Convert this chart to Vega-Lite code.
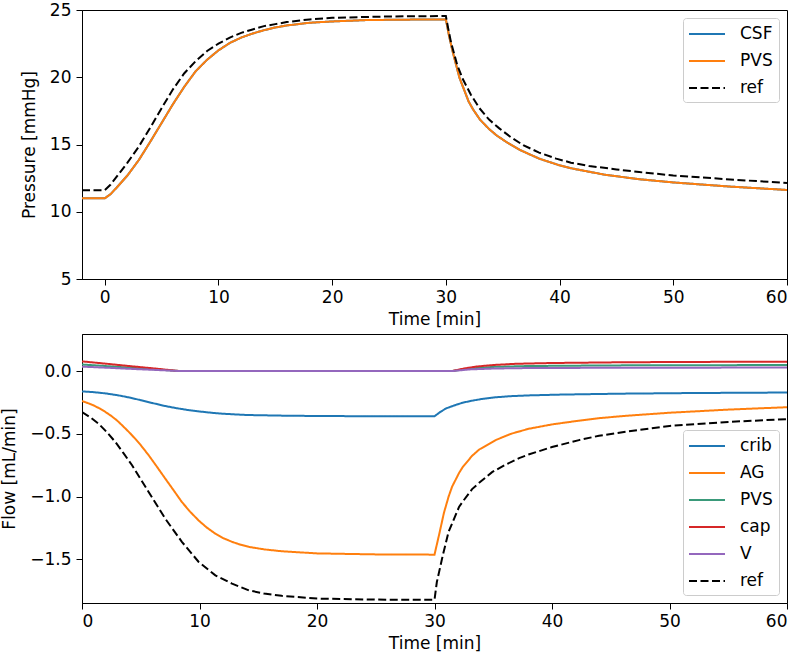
{
  "$schema": "https://vega.github.io/schema/vega-lite/v6.json",
  "padding": {"left": 0, "top": 0, "right": 0, "bottom": 0},
  "spacing": 5,
  "config": {
    "view": {"stroke": "black", "strokeWidth": 1},
    "font": "DejaVu Sans",
    "axis": {
      "grid": false,
      "domainColor": "black",
      "tickColor": "black",
      "tickSize": 6,
      "labelColor": "black",
      "titleColor": "black",
      "labelFont": "DejaVu Sans",
      "titleFont": "DejaVu Sans",
      "labelFontSize": 17,
      "titleFontSize": 17,
      "titleFontWeight": "normal"
    },
    "legend": {
      "labelFont": "DejaVu Sans",
      "labelFontSize": 17,
      "labelColor": "black",
      "symbolType": "M-2,0H2",
      "symbolSize": 324,
      "symbolStrokeWidth": 2,
      "symbolFillColor": "transparent",
      "symbolOffset": 8,
      "labelOffset": 23,
      "padding": 6,
      "rowPadding": 9,
      "strokeColor": "#cccccc",
      "fillColor": "rgba(255,255,255,0.85)",
      "cornerRadius": 3
    }
  },
  "datasets": {
    "pressure": [
      {"t": -2, "s": "CSF", "v": 11.0}, {"t": 0, "s": "CSF", "v": 11.0}, {"t": 0.5, "s": "CSF", "v": 11.3}, {"t": 1, "s": "CSF", "v": 11.75}, {"t": 2, "s": "CSF", "v": 12.7}, {"t": 3, "s": "CSF", "v": 13.85}, {"t": 4, "s": "CSF", "v": 15.2}, {"t": 5, "s": "CSF", "v": 16.6}, {"t": 6, "s": "CSF", "v": 18.0}, {"t": 7, "s": "CSF", "v": 19.3}, {"t": 8, "s": "CSF", "v": 20.45}, {"t": 9, "s": "CSF", "v": 21.3}, {"t": 10, "s": "CSF", "v": 22.0}, {"t": 11, "s": "CSF", "v": 22.55}, {"t": 12, "s": "CSF", "v": 22.95}, {"t": 13, "s": "CSF", "v": 23.25}, {"t": 14, "s": "CSF", "v": 23.5}, {"t": 15, "s": "CSF", "v": 23.7}, {"t": 16, "s": "CSF", "v": 23.85}, {"t": 18, "s": "CSF", "v": 24.05}, {"t": 20, "s": "CSF", "v": 24.15}, {"t": 23, "s": "CSF", "v": 24.25}, {"t": 26, "s": "CSF", "v": 24.28}, {"t": 30, "s": "CSF", "v": 24.3}, {"t": 30.3, "s": "CSF", "v": 23.0}, {"t": 30.6, "s": "CSF", "v": 21.9}, {"t": 31.2, "s": "CSF", "v": 19.95}, {"t": 32, "s": "CSF", "v": 18.2}, {"t": 32.4, "s": "CSF", "v": 17.6}, {"t": 33, "s": "CSF", "v": 16.85}, {"t": 33.8, "s": "CSF", "v": 16.15}, {"t": 34.5, "s": "CSF", "v": 15.65}, {"t": 35.3, "s": "CSF", "v": 15.2}, {"t": 36.5, "s": "CSF", "v": 14.6}, {"t": 38.2, "s": "CSF", "v": 13.95}, {"t": 40, "s": "CSF", "v": 13.45}, {"t": 41.2, "s": "CSF", "v": 13.2}, {"t": 44, "s": "CSF", "v": 12.75}, {"t": 47, "s": "CSF", "v": 12.42}, {"t": 50, "s": "CSF", "v": 12.18}, {"t": 55, "s": "CSF", "v": 11.87}, {"t": 60, "s": "CSF", "v": 11.62},
      {"t": -2, "s": "PVS", "v": 11.0}, {"t": 0, "s": "PVS", "v": 11.0}, {"t": 0.5, "s": "PVS", "v": 11.3}, {"t": 1, "s": "PVS", "v": 11.75}, {"t": 2, "s": "PVS", "v": 12.7}, {"t": 3, "s": "PVS", "v": 13.85}, {"t": 4, "s": "PVS", "v": 15.2}, {"t": 5, "s": "PVS", "v": 16.6}, {"t": 6, "s": "PVS", "v": 18.0}, {"t": 7, "s": "PVS", "v": 19.3}, {"t": 8, "s": "PVS", "v": 20.45}, {"t": 9, "s": "PVS", "v": 21.3}, {"t": 10, "s": "PVS", "v": 22.0}, {"t": 11, "s": "PVS", "v": 22.55}, {"t": 12, "s": "PVS", "v": 22.95}, {"t": 13, "s": "PVS", "v": 23.25}, {"t": 14, "s": "PVS", "v": 23.5}, {"t": 15, "s": "PVS", "v": 23.7}, {"t": 16, "s": "PVS", "v": 23.85}, {"t": 18, "s": "PVS", "v": 24.05}, {"t": 20, "s": "PVS", "v": 24.15}, {"t": 23, "s": "PVS", "v": 24.25}, {"t": 26, "s": "PVS", "v": 24.28}, {"t": 30, "s": "PVS", "v": 24.3}, {"t": 30.3, "s": "PVS", "v": 23.0}, {"t": 30.6, "s": "PVS", "v": 21.9}, {"t": 31.2, "s": "PVS", "v": 19.95}, {"t": 32, "s": "PVS", "v": 18.2}, {"t": 32.4, "s": "PVS", "v": 17.6}, {"t": 33, "s": "PVS", "v": 16.85}, {"t": 33.8, "s": "PVS", "v": 16.15}, {"t": 34.5, "s": "PVS", "v": 15.65}, {"t": 35.3, "s": "PVS", "v": 15.2}, {"t": 36.5, "s": "PVS", "v": 14.6}, {"t": 38.2, "s": "PVS", "v": 13.95}, {"t": 40, "s": "PVS", "v": 13.45}, {"t": 41.2, "s": "PVS", "v": 13.2}, {"t": 44, "s": "PVS", "v": 12.75}, {"t": 47, "s": "PVS", "v": 12.42}, {"t": 50, "s": "PVS", "v": 12.18}, {"t": 55, "s": "PVS", "v": 11.87}, {"t": 60, "s": "PVS", "v": 11.62},
      {"t": -2, "s": "ref", "v": 11.6}, {"t": 0, "s": "ref", "v": 11.6}, {"t": 0.5, "s": "ref", "v": 12.0}, {"t": 1, "s": "ref", "v": 12.55}, {"t": 2, "s": "ref", "v": 13.65}, {"t": 3, "s": "ref", "v": 14.85}, {"t": 4, "s": "ref", "v": 16.25}, {"t": 5, "s": "ref", "v": 17.7}, {"t": 6, "s": "ref", "v": 19.1}, {"t": 7, "s": "ref", "v": 20.3}, {"t": 8, "s": "ref", "v": 21.2}, {"t": 9, "s": "ref", "v": 21.95}, {"t": 10, "s": "ref", "v": 22.5}, {"t": 11, "s": "ref", "v": 22.95}, {"t": 12, "s": "ref", "v": 23.3}, {"t": 13, "s": "ref", "v": 23.55}, {"t": 14, "s": "ref", "v": 23.8}, {"t": 15, "s": "ref", "v": 23.95}, {"t": 16, "s": "ref", "v": 24.1}, {"t": 18, "s": "ref", "v": 24.3}, {"t": 20, "s": "ref", "v": 24.42}, {"t": 25, "s": "ref", "v": 24.52}, {"t": 30, "s": "ref", "v": 24.55}, {"t": 30.2, "s": "ref", "v": 23.65}, {"t": 30.45, "s": "ref", "v": 22.6}, {"t": 31, "s": "ref", "v": 20.9}, {"t": 31.5, "s": "ref", "v": 19.85}, {"t": 32.2, "s": "ref", "v": 18.7}, {"t": 32.95, "s": "ref", "v": 17.7}, {"t": 33.8, "s": "ref", "v": 16.85}, {"t": 34.7, "s": "ref", "v": 16.2}, {"t": 35.7, "s": "ref", "v": 15.55}, {"t": 36.8, "s": "ref", "v": 14.95}, {"t": 38.2, "s": "ref", "v": 14.4}, {"t": 39.7, "s": "ref", "v": 13.95}, {"t": 41, "s": "ref", "v": 13.65}, {"t": 42.6, "s": "ref", "v": 13.4}, {"t": 45, "s": "ref", "v": 13.15}, {"t": 47, "s": "ref", "v": 12.95}, {"t": 50, "s": "ref", "v": 12.7}, {"t": 55, "s": "ref", "v": 12.4}, {"t": 60, "s": "ref", "v": 12.14}
    ],
    "flow": [
      {"t": 0, "s": "crib", "v": -0.162}, {"t": 1, "s": "crib", "v": -0.168}, {"t": 2, "s": "crib", "v": -0.178}, {"t": 3, "s": "crib", "v": -0.192}, {"t": 4, "s": "crib", "v": -0.21}, {"t": 5, "s": "crib", "v": -0.232}, {"t": 6, "s": "crib", "v": -0.255}, {"t": 7, "s": "crib", "v": -0.277}, {"t": 8, "s": "crib", "v": -0.295}, {"t": 9, "s": "crib", "v": -0.31}, {"t": 10, "s": "crib", "v": -0.322}, {"t": 11, "s": "crib", "v": -0.332}, {"t": 12, "s": "crib", "v": -0.34}, {"t": 14, "s": "crib", "v": -0.35}, {"t": 17, "s": "crib", "v": -0.355}, {"t": 20, "s": "crib", "v": -0.358}, {"t": 25, "s": "crib", "v": -0.36}, {"t": 30, "s": "crib", "v": -0.36}, {"t": 30.5, "s": "crib", "v": -0.325}, {"t": 31, "s": "crib", "v": -0.297}, {"t": 31.8, "s": "crib", "v": -0.27}, {"t": 32.4, "s": "crib", "v": -0.252}, {"t": 33.2, "s": "crib", "v": -0.236}, {"t": 34, "s": "crib", "v": -0.223}, {"t": 35.2, "s": "crib", "v": -0.209}, {"t": 36.5, "s": "crib", "v": -0.2}, {"t": 38, "s": "crib", "v": -0.194}, {"t": 41, "s": "crib", "v": -0.187}, {"t": 46, "s": "crib", "v": -0.18}, {"t": 52, "s": "crib", "v": -0.175}, {"t": 60, "s": "crib", "v": -0.171},
      {"t": 0, "s": "AG", "v": -0.239}, {"t": 0.5, "s": "AG", "v": -0.255}, {"t": 1, "s": "AG", "v": -0.274}, {"t": 1.5, "s": "AG", "v": -0.298}, {"t": 2, "s": "AG", "v": -0.326}, {"t": 2.5, "s": "AG", "v": -0.358}, {"t": 3, "s": "AG", "v": -0.395}, {"t": 3.5, "s": "AG", "v": -0.44}, {"t": 4, "s": "AG", "v": -0.486}, {"t": 4.5, "s": "AG", "v": -0.536}, {"t": 5, "s": "AG", "v": -0.59}, {"t": 5.67, "s": "AG", "v": -0.67}, {"t": 6.4, "s": "AG", "v": -0.765}, {"t": 7.09, "s": "AG", "v": -0.857}, {"t": 7.8, "s": "AG", "v": -0.95}, {"t": 8.5, "s": "AG", "v": -1.043}, {"t": 9.2, "s": "AG", "v": -1.12}, {"t": 9.93, "s": "AG", "v": -1.19}, {"t": 10.6, "s": "AG", "v": -1.245}, {"t": 11.35, "s": "AG", "v": -1.295}, {"t": 12, "s": "AG", "v": -1.33}, {"t": 12.77, "s": "AG", "v": -1.36}, {"t": 13.5, "s": "AG", "v": -1.383}, {"t": 14.2, "s": "AG", "v": -1.4}, {"t": 15.5, "s": "AG", "v": -1.42}, {"t": 17, "s": "AG", "v": -1.435}, {"t": 20, "s": "AG", "v": -1.452}, {"t": 25, "s": "AG", "v": -1.46}, {"t": 30, "s": "AG", "v": -1.462}, {"t": 30.4, "s": "AG", "v": -1.3}, {"t": 30.8, "s": "AG", "v": -1.13}, {"t": 31.2, "s": "AG", "v": -1.0}, {"t": 31.5, "s": "AG", "v": -0.92}, {"t": 32.1, "s": "AG", "v": -0.81}, {"t": 32.4, "s": "AG", "v": -0.765}, {"t": 33.2, "s": "AG", "v": -0.675}, {"t": 33.8, "s": "AG", "v": -0.625}, {"t": 35.2, "s": "AG", "v": -0.55}, {"t": 36.5, "s": "AG", "v": -0.5}, {"t": 38, "s": "AG", "v": -0.46}, {"t": 40, "s": "AG", "v": -0.425}, {"t": 42.3, "s": "AG", "v": -0.395}, {"t": 44, "s": "AG", "v": -0.375}, {"t": 46.5, "s": "AG", "v": -0.355}, {"t": 50, "s": "AG", "v": -0.332}, {"t": 55, "s": "AG", "v": -0.307}, {"t": 60, "s": "AG", "v": -0.288},
      {"t": 0, "s": "PVS", "v": 0.052}, {"t": 2, "s": "PVS", "v": 0.04}, {"t": 4, "s": "PVS", "v": 0.027}, {"t": 6, "s": "PVS", "v": 0.015}, {"t": 8.3, "s": "PVS", "v": 0.0}, {"t": 31.5, "s": "PVS", "v": 0.0}, {"t": 33, "s": "PVS", "v": 0.02}, {"t": 35, "s": "PVS", "v": 0.033}, {"t": 38, "s": "PVS", "v": 0.04}, {"t": 45, "s": "PVS", "v": 0.045}, {"t": 60, "s": "PVS", "v": 0.048},
      {"t": 0, "s": "cap", "v": 0.077}, {"t": 2, "s": "cap", "v": 0.059}, {"t": 4, "s": "cap", "v": 0.04}, {"t": 6, "s": "cap", "v": 0.022}, {"t": 8.3, "s": "cap", "v": 0.0}, {"t": 31.5, "s": "cap", "v": 0.0}, {"t": 32.5, "s": "cap", "v": 0.02}, {"t": 33.5, "s": "cap", "v": 0.035}, {"t": 35, "s": "cap", "v": 0.048}, {"t": 37, "s": "cap", "v": 0.058}, {"t": 40, "s": "cap", "v": 0.064}, {"t": 45, "s": "cap", "v": 0.069}, {"t": 50, "s": "cap", "v": 0.072}, {"t": 60, "s": "cap", "v": 0.075},
      {"t": 0, "s": "V", "v": 0.035}, {"t": 2, "s": "V", "v": 0.027}, {"t": 4, "s": "V", "v": 0.018}, {"t": 6, "s": "V", "v": 0.01}, {"t": 8.3, "s": "V", "v": 0.0}, {"t": 31.5, "s": "V", "v": 0.0}, {"t": 33, "s": "V", "v": 0.013}, {"t": 35, "s": "V", "v": 0.02}, {"t": 38, "s": "V", "v": 0.024}, {"t": 45, "s": "V", "v": 0.026}, {"t": 60, "s": "V", "v": 0.028},
      {"t": 0, "s": "ref", "v": -0.326}, {"t": 0.7, "s": "ref", "v": -0.368}, {"t": 1.42, "s": "ref", "v": -0.42}, {"t": 2.1, "s": "ref", "v": -0.485}, {"t": 2.84, "s": "ref", "v": -0.565}, {"t": 3.5, "s": "ref", "v": -0.65}, {"t": 4.26, "s": "ref", "v": -0.75}, {"t": 5.67, "s": "ref", "v": -0.963}, {"t": 7.09, "s": "ref", "v": -1.176}, {"t": 8.5, "s": "ref", "v": -1.36}, {"t": 9.93, "s": "ref", "v": -1.52}, {"t": 11.35, "s": "ref", "v": -1.627}, {"t": 12.77, "s": "ref", "v": -1.693}, {"t": 14.2, "s": "ref", "v": -1.746}, {"t": 15.5, "s": "ref", "v": -1.772}, {"t": 17, "s": "ref", "v": -1.79}, {"t": 20, "s": "ref", "v": -1.812}, {"t": 25, "s": "ref", "v": -1.82}, {"t": 30, "s": "ref", "v": -1.822}, {"t": 30.2, "s": "ref", "v": -1.68}, {"t": 30.7, "s": "ref", "v": -1.47}, {"t": 31.2, "s": "ref", "v": -1.28}, {"t": 32.1, "s": "ref", "v": -1.08}, {"t": 32.4, "s": "ref", "v": -1.04}, {"t": 33.2, "s": "ref", "v": -0.94}, {"t": 33.8, "s": "ref", "v": -0.89}, {"t": 34.9, "s": "ref", "v": -0.805}, {"t": 36.06, "s": "ref", "v": -0.745}, {"t": 37.2, "s": "ref", "v": -0.693}, {"t": 38, "s": "ref", "v": -0.665}, {"t": 38.9, "s": "ref", "v": -0.638}, {"t": 40, "s": "ref", "v": -0.605}, {"t": 42.3, "s": "ref", "v": -0.55}, {"t": 44, "s": "ref", "v": -0.515}, {"t": 46.5, "s": "ref", "v": -0.48}, {"t": 50, "s": "ref", "v": -0.437}, {"t": 55, "s": "ref", "v": -0.405}, {"t": 60, "s": "ref", "v": -0.383}
    ]
  },
  "resolve": {
    "scale": {"color": "independent", "strokeDash": "independent"},
    "legend": {"color": "independent", "strokeDash": "independent"}
  },
  "vconcat": [
    {
      "width": 705,
      "height": 269,
      "data": {"name": "pressure"},
      "mark": {"type": "line", "strokeWidth": 2, "clip": true},
      "encoding": {
        "x": {"field": "t", "type": "quantitative", "scale": {"domain": [-2, 60], "nice": false, "zero": false}, "axis": {"values": [0, 10, 20, 30, 40, 50, 60], "title": "Time [min]", "labelPadding": 4, "titlePadding": 6}},
        "y": {"field": "v", "type": "quantitative", "scale": {"domain": [5, 25], "nice": false, "zero": false}, "axis": {"values": [5, 10, 15, 20, 25], "title": "Pressure [mmHg]", "labelPadding": 5, "titlePadding": 11}},
        "color": {"field": "s", "type": "nominal", "sort": ["CSF", "PVS", "ref"], "scale": {"domain": ["CSF", "PVS", "ref"], "range": ["#1f77b4", "#ff7f0e", "#000000"]}, "legend": {"title": null, "orient": "top-right", "offset": 8}},
        "strokeDash": {"field": "s", "type": "nominal", "sort": ["CSF", "PVS", "ref"], "scale": {"domain": ["CSF", "PVS", "ref"], "range": [[1, 0], [1, 0], [8, 3.5]]}, "legend": {"title": null, "orient": "top-right", "offset": 8}}
      }
    },
    {
      "width": 705,
      "height": 269,
      "data": {"name": "flow"},
      "mark": {"type": "line", "strokeWidth": 2, "clip": true},
      "encoding": {
        "x": {"field": "t", "type": "quantitative", "scale": {"domain": [0, 60], "nice": false, "zero": false}, "axis": {"values": [0, 10, 20, 30, 40, 50, 60], "title": "Time [min]", "labelPadding": 4, "titlePadding": 6}},
        "y": {"field": "v", "type": "quantitative", "scale": {"domain": [-1.847, 0.295], "nice": false, "zero": false}, "axis": {"values": [-1.5, -1.0, -0.5, 0.0], "format": ".1f", "title": "Flow [mL/min]", "labelPadding": 5, "titlePadding": 11}},
        "color": {"field": "s", "type": "nominal", "sort": ["crib", "AG", "PVS", "cap", "V", "ref"], "scale": {"domain": ["crib", "AG", "PVS", "cap", "V", "ref"], "range": ["#1f77b4", "#ff7f0e", "#3a9a7a", "#d62728", "#9467bd", "#000000"]}, "legend": {"title": null, "orient": "bottom-right", "offset": 8}},
        "strokeDash": {"field": "s", "type": "nominal", "sort": ["crib", "AG", "PVS", "cap", "V", "ref"], "scale": {"domain": ["crib", "AG", "PVS", "cap", "V", "ref"], "range": [[1, 0], [1, 0], [1, 0], [1, 0], [1, 0], [8, 3.5]]}, "legend": {"title": null, "orient": "bottom-right", "offset": 8}}
      }
    }
  ]
}
